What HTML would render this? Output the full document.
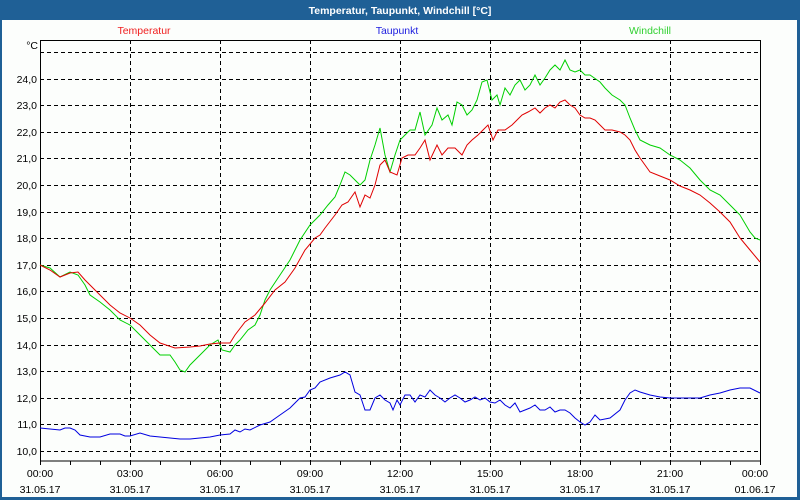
<!DOCTYPE html>
<html><head><meta charset="utf-8"><style>
html,body{margin:0;padding:0;background:#fff}
svg{display:block}
text{font-family:"Liberation Sans","DejaVu Sans",sans-serif;font-size:10.5px}
</style></head><body>
<svg width="800" height="500" xmlns="http://www.w3.org/2000/svg">
<rect x="0" y="0" width="800" height="500" fill="#1f6096"/>
<rect x="2" y="20" width="795" height="477" fill="#fcfefc"/>
<text x="400" y="14" fill="#fff" font-weight="bold" text-anchor="middle" font-size="11">Temperatur, Taupunkt, Windchill [°C]</text>
<text x="144" y="34" fill="#f02020" text-anchor="middle">Temperatur</text>
<text x="397" y="34" fill="#2020e0" text-anchor="middle">Taupunkt</text>
<text x="650" y="34" fill="#30d030" text-anchor="middle">Windchill</text>
<g stroke="#000" stroke-dasharray="4,3" stroke-width="1">
<path d="M40 52.5H760M40 79.5H760M40 105.5H760M40 132.5H760M40 158.5H760M40 185.5H760M40 212.5H760M40 238.5H760M40 265.5H760M40 291.5H760M40 318.5H760M40 345.5H760M40 371.5H760M40 398.5H760M40 424.5H760M40 451.5H760"/>
<path d="M130.5 40V461M220.5 40V461M310.5 40V461M400.5 40V461M490.5 40V461M580.5 40V461M670.5 40V461"/>
</g>
<rect x="40.5" y="40.5" width="720" height="420.5" fill="none" stroke="#000"/>
<g stroke="#000"><path d="M70.5 461v4M100.5 461v4M130.5 461v4M160.5 461v4M190.5 461v4M220.5 461v4M250.5 461v4M280.5 461v4M310.5 461v4M340.5 461v4M370.5 461v4M400.5 461v4M430.5 461v4M460.5 461v4M490.5 461v4M520.5 461v4M550.5 461v4M580.5 461v4M610.5 461v4M640.5 461v4M670.5 461v4M700.5 461v4M730.5 461v4M40.5 461v4M760.5 461v4"/></g>
<g text-anchor="end" fill="#000">
<text x="38" y="49">°C</text>
<text x="37" y="83">24,0</text><text x="37" y="109">23,0</text><text x="37" y="136">22,0</text><text x="37" y="162">21,0</text><text x="37" y="189">20,0</text><text x="37" y="216">19,0</text><text x="37" y="242">18,0</text><text x="37" y="269">17,0</text><text x="37" y="295">16,0</text><text x="37" y="322">15,0</text><text x="37" y="349">14,0</text><text x="37" y="375">13,0</text><text x="37" y="402">12,0</text><text x="37" y="428">11,0</text><text x="37" y="455">10,0</text>
</g>
<g text-anchor="middle" fill="#000">
<text x="40" y="477">00:00</text><text x="130" y="477">03:00</text><text x="220" y="477">06:00</text><text x="310" y="477">09:00</text><text x="400" y="477">12:00</text><text x="490" y="477">15:00</text><text x="580" y="477">18:00</text><text x="670" y="477">21:00</text><text x="755" y="477">00:00</text>
<text x="40" y="493">31.05.17</text><text x="130" y="493">31.05.17</text><text x="220" y="493">31.05.17</text><text x="310" y="493">31.05.17</text><text x="400" y="493">31.05.17</text><text x="490" y="493">31.05.17</text><text x="580" y="493">31.05.17</text><text x="670" y="493">31.05.17</text><text x="755" y="493">01.06.17</text>
</g>
<g fill="none" stroke-width="1">
<polyline stroke="#0000e0" points="40,428 50,429 60,430 65,428 70,428 75,430 80,435 90,437 100,437 110,434 120,434 125,436 130,436 140,433 150,436 160,437 170,438 180,439 190,439 200,438 210,437 220,435 230,434 235,430 240,432 245,429 250,430 260,425 270,422 280,415 290,408 300,398 305,397 310,390 315,388 320,382 330,378 340,375 345,372 350,375 355,392 360,395 365,410 370,410 375,398 380,395 385,400 390,403 393,410 397,400 400,405 405,395 410,395 415,402 420,395 425,397 430,390 435,395 440,398 445,402 450,398 455,395 460,398 465,402 470,400 475,397 480,400 485,398 490,402 495,403 500,400 505,405 510,408 515,403 520,412 525,410 530,408 535,405 540,410 545,410 550,407 555,412 560,410 565,410 570,413 575,418 580,422 585,425 590,422 595,415 600,420 610,418 620,410 625,400 630,393 635,390 640,392 650,395 660,397 670,398 680,398 690,398 700,398 710,395 720,393 730,390 740,388 750,388 760,393"/>
<polyline stroke="#00d000" points="40,265 50,268 60,277 70,272 78,275 85,285 90,295 100,302 110,310 120,320 130,325 140,335 150,345 160,355 170,355 175,362 180,370 185,372 190,365 200,355 210,345 218,340 222,350 230,352 235,345 240,340 248,330 255,325 260,315 265,300 270,290 280,275 290,260 300,240 310,225 320,215 328,205 335,197 340,185 345,172 350,175 355,180 360,185 365,180 370,160 375,145 380,128 385,155 390,172 395,155 400,140 405,135 410,130 415,130 420,112 425,135 432,125 437,108 442,120 448,115 452,125 457,102 462,105 467,115 472,110 477,100 482,82 487,80 492,100 497,95 500,105 505,88 510,95 515,85 520,80 525,90 530,85 535,75 540,85 545,78 550,70 555,65 560,70 565,60 570,70 575,72 580,70 585,75 590,75 600,82 605,88 612,95 620,100 625,105 630,118 635,130 640,140 650,145 660,148 670,155 680,160 690,168 700,180 710,190 720,195 730,205 740,215 750,232 755,238 760,240"/>
<polyline stroke="#e00000" points="40,265 50,270 60,277 70,273 78,272 85,280 95,290 110,305 120,313 130,318 140,325 150,335 160,343 175,348 190,347 200,346 210,344 220,343 230,343 235,335 245,322 255,315 265,303 275,290 285,282 295,268 305,250 315,238 320,235 325,228 335,215 342,205 348,202 355,192 360,207 365,195 370,198 375,185 380,165 385,160 390,172 397,175 402,158 408,155 415,155 420,148 425,140 430,160 437,145 442,155 448,148 455,148 462,155 467,145 472,140 478,135 483,130 488,125 493,140 498,130 505,130 512,125 517,120 522,115 528,112 535,108 540,113 545,108 550,105 555,108 560,102 565,100 570,105 575,108 580,115 585,118 590,118 595,120 600,125 605,130 612,130 620,132 625,135 630,140 635,150 640,158 645,165 650,172 660,176 670,180 680,186 690,190 700,195 710,203 720,212 730,222 740,238 750,250 760,262"/>
</g>
</svg>
</body></html>
